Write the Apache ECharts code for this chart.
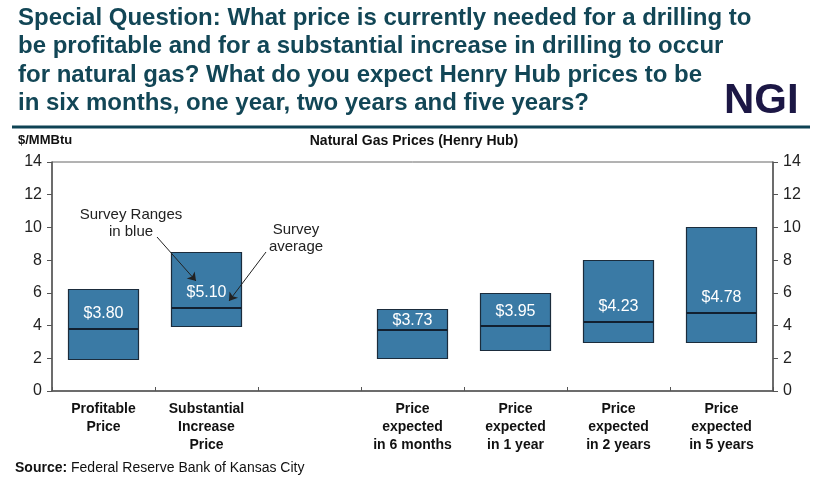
<!DOCTYPE html>
<html>
<head>
<meta charset="utf-8">
<script src="https://cdn.jsdelivr.net/npm/echarts@6/dist/echarts.min.js"></script>
<style>
  html, body { margin: 0; padding: 0; background: #fff; }
  #main { width: 828px; height: 486px; }
</style>
</head>
<body>
<div id="main"></div>
<script>
var categories = ['Profitable\nPrice', 'Substantial\nIncrease\nPrice', '',
    'Price\nexpected\nin 6 months', 'Price\nexpected\nin 1 year',
    'Price\nexpected\nin 2 years', 'Price\nexpected\nin 5 years'];
var lowValues = [2, 4, null, 2, 2.5, 3, 3];
var highValues = [6.25, 8.5, null, 5, 6, 8, 10];
var avgValues = [3.80, 5.10, null, 3.73, 3.95, 4.23, 4.78];
var yTicks = [0, 2, 4, 6, 8, 10, 12, 14];

var barColor = '#3a7aa5';
var edgeColor = '#1b2c3c';
var font = 'Liberation Sans, Arial, sans-serif';

// rows for the custom series: [index, low, high, avg]
var rangeData = [];
for (var i = 0; i < categories.length; i++) {
    if (avgValues[i] != null) {
        rangeData.push([i, lowValues[i], highValues[i], avgValues[i]]);
    }
}

function renderRange(params, api) {
    var idx = api.value(0);
    var top = api.coord([idx, api.value(2)]);
    var bottom = api.coord([idx, api.value(1)]);
    var mid = api.coord([idx, api.value(3)]);
    var w = api.size([1, 0])[0] * 0.68;
    var x0 = Math.round(top[0] - w / 2) + 0.5;
    // label sits above the average line but stays inside the box
    var labelY = Math.max(mid[1] - 15, top[1] + 11);
    return {
        type: 'group',
        children: [
            {
                type: 'rect',
                shape: { x: x0, y: Math.round(top[1]) + 0.5, width: Math.round(w), height: Math.round(bottom[1] - top[1]) },
                style: { fill: barColor, stroke: edgeColor, lineWidth: 1.2 }
            },
            {
                type: 'line',
                shape: { x1: x0, y1: Math.round(mid[1]), x2: x0 + Math.round(w), y2: Math.round(mid[1]) },
                style: { stroke: '#122030', lineWidth: 1.8 }
            },
            {
                type: 'text',
                x: top[0],
                y: labelY,
                style: {
                    text: '$' + api.value(3).toFixed(2),
                    fill: '#fff',
                    font: '16px ' + font,
                    textAlign: 'center',
                    textVerticalAlign: 'middle'
                }
            }
        ]
    };
}

var myChart = echarts.init(document.getElementById('main'));

var yAxisBase = {
    type: 'value',
    min: yTicks[0],
    max: yTicks[yTicks.length - 1],
    interval: 2,
    splitLine: { show: false },
    axisLine: { show: true, lineStyle: { color: '#555', width: 1.5 } },
    axisTick: { show: true, length: 5, lineStyle: { color: '#555' } },
    axisLabel: { color: '#222', fontSize: 16, fontFamily: font, margin: 10 }
};

var option = {
    animation: false,
    backgroundColor: '#fff',
    grid: {
        left: 52, right: 55, top: 162, bottom: 95,
        show: true, borderColor: '#666', borderWidth: 1
    },
    xAxis: {
        type: 'category',
        data: categories,
        axisLine: { lineStyle: { color: '#555', width: 1.5 } },
        axisTick: { show: true, inside: true, length: 4, lineStyle: { color: '#555' } },
        axisLabel: {
            interval: 0, color: '#111', fontSize: 14, fontWeight: 'bold',
            fontFamily: font, lineHeight: 18, margin: 9
        }
    },
    yAxis: [
        yAxisBase,
        echarts.util.merge({ position: 'right' }, yAxisBase)
    ],
    series: [
        {
            name: 'Survey range',
            type: 'custom',
            renderItem: renderRange,
            encode: { x: 0, y: [1, 2, 3] },
            data: rangeData,
            z: 2
        },
        {
            // annotation arrows
            type: 'line',
            data: [],
            markLine: {
                silent: true,
                symbol: ['none', 'arrow'],
                symbolSize: 8,
                label: { show: false },
                lineStyle: { color: '#222', width: 1, type: 'solid' },
                data: [
                    [{ x: 157, y: 237 }, { x: 196, y: 281 }],
                    [{ x: 266, y: 252 }, { x: 229, y: 301 }]
                ]
            },
            z: 5
        }
    ],
    graphic: [
        {
            type: 'text', left: 18, top: 4,
            style: {
                text: 'Special Question: What price is currently needed for a drilling to\n' +
                      'be profitable and for a substantial increase in drilling to occur\n' +
                      'for natural gas? What do you expect Henry Hub prices to be\n' +
                      'in six months, one year, two years and five years?',
                font: 'bold 24px ' + font,
                lineHeight: 28.5,
                fill: '#124656'
            }
        },
        {
            type: 'text', left: 724, top: 80,
            style: { text: 'NGI', font: 'bold 42px ' + font, fill: '#1c1745' }
        },
        {
            type: 'line',
            shape: { x1: 12, y1: 127, x2: 810, y2: 127 },
            style: { stroke: '#0e4354', lineWidth: 3 }
        },
        {
            type: 'text', left: 18, top: 134,
            style: { text: '$/MMBtu', font: 'bold 13px ' + font, fill: '#111' }
        },
        {
            type: 'text', left: 'center', top: 134,
            style: { text: 'Natural Gas Prices (Henry Hub)', font: 'bold 14px ' + font, fill: '#111' }
        },
        {
            type: 'text', x: 131, y: 206,
            style: {
                text: 'Survey Ranges\nin blue', font: '15px ' + font,
                fill: '#222', lineHeight: 17.5, textAlign: 'center'
            }
        },
        {
            type: 'text', x: 296, y: 221,
            style: {
                text: 'Survey\naverage', font: '15px ' + font,
                fill: '#222', lineHeight: 17.5, textAlign: 'center'
            }
        },
        {
            type: 'text', left: 15, top: 461,
            style: {
                rich: {
                    b: { fontWeight: 'bold', fontSize: 14, fontFamily: font, fill: '#111' },
                    r: { fontSize: 14, fontFamily: font, fill: '#111' }
                },
                text: '{b|Source:}{r| Federal Reserve Bank of Kansas City}'
            }
        }
    ]
};

myChart.setOption(option);
</script>
</body>
</html>
